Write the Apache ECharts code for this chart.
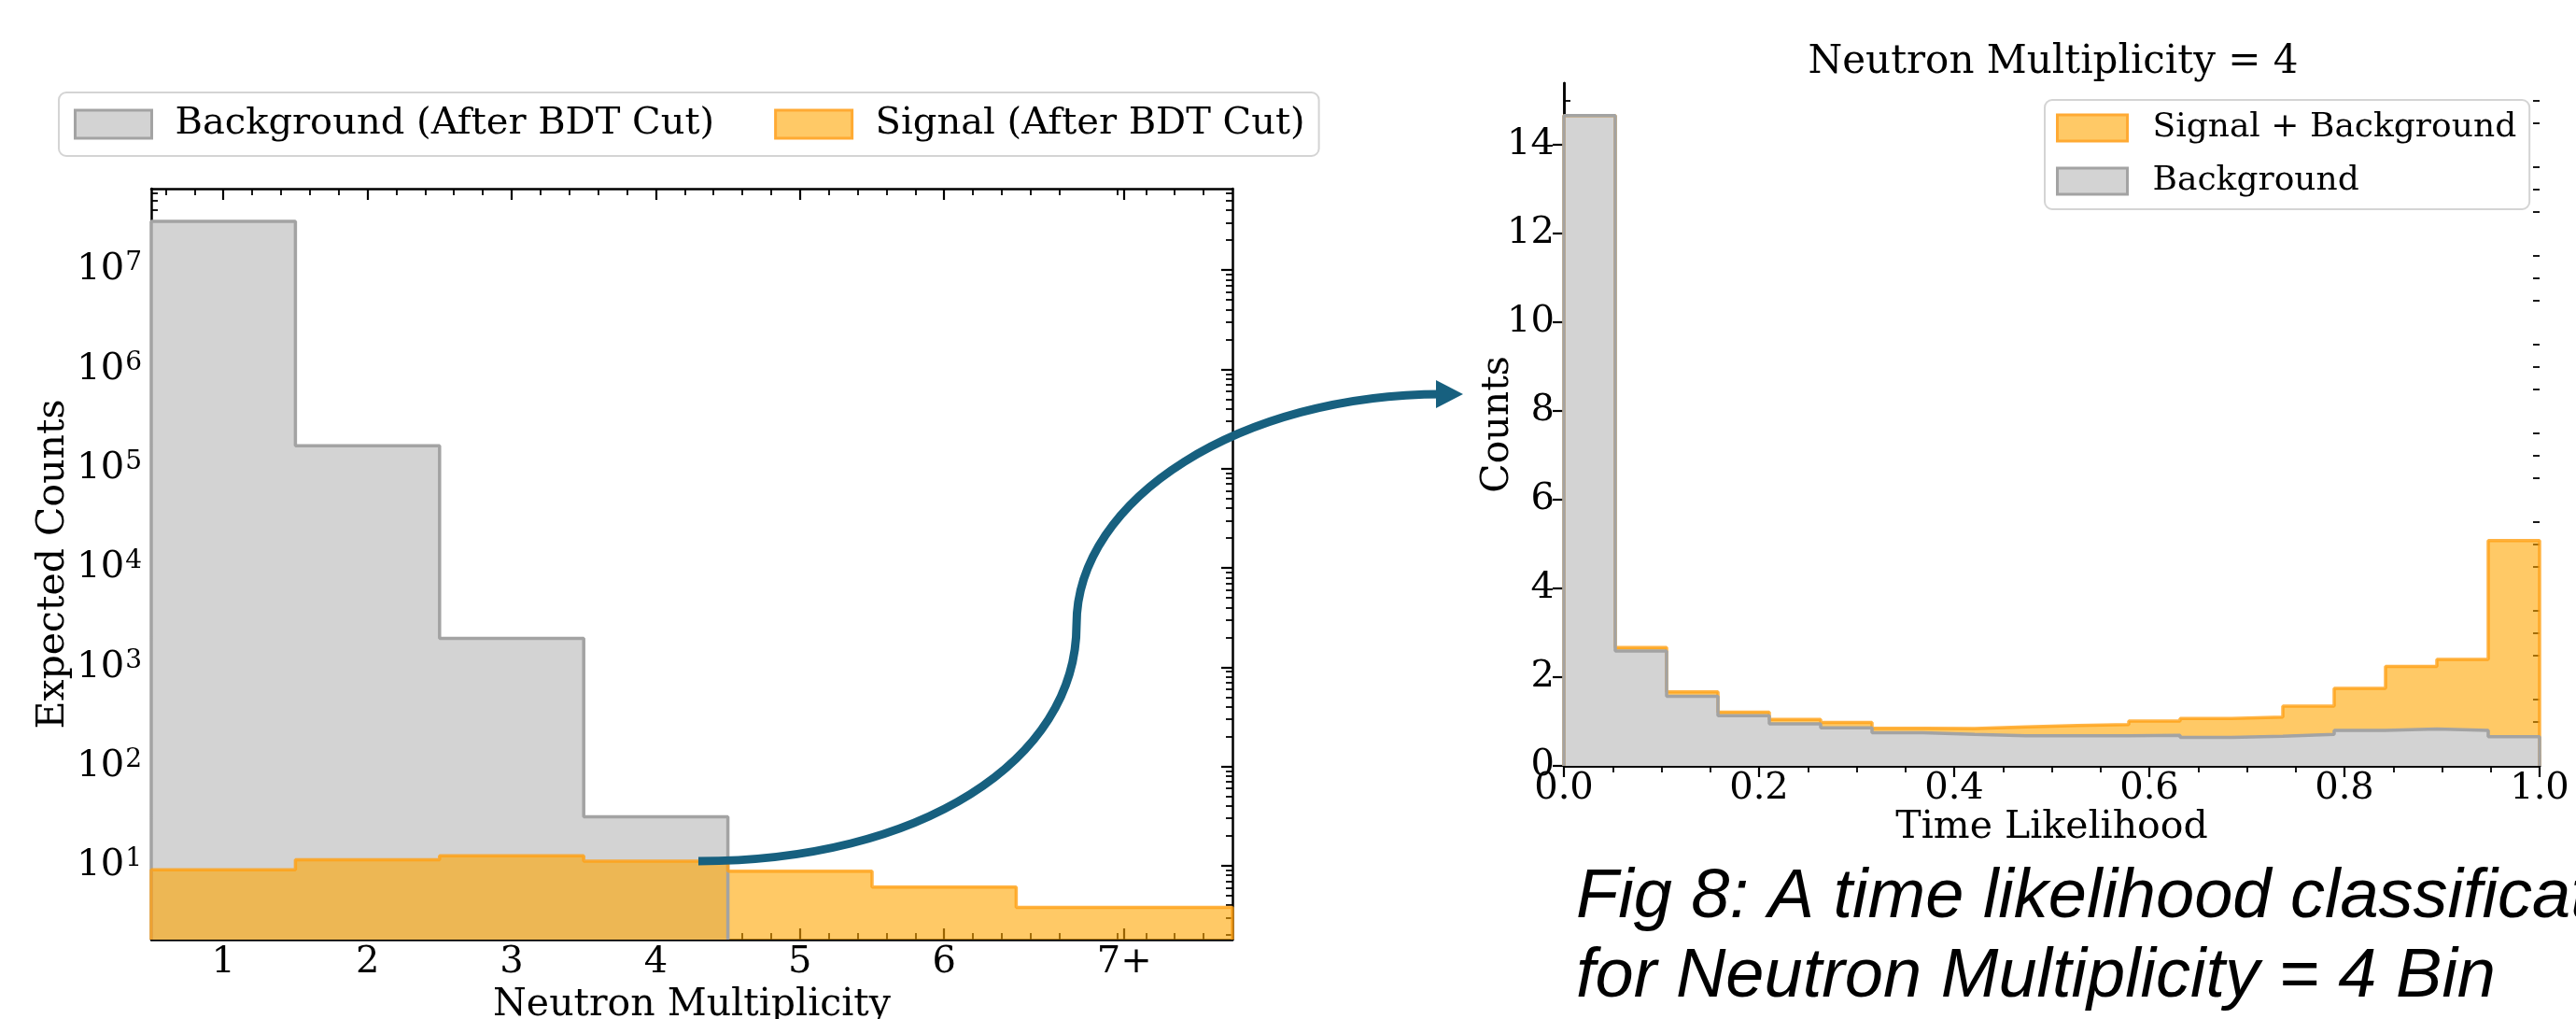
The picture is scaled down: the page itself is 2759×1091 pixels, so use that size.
<!DOCTYPE html>
<html>
<head>
<meta charset="utf-8">
<title>Neutron multiplicity / time likelihood</title>
<script src="https://cdn.jsdelivr.net/npm/echarts@6/dist/echarts.min.js"></script>
<style>
  html, body { margin: 0; padding: 0; background: #fff; }
  #chart { width: 2759px; height: 1091px; }
</style>
</head>
<body>
<div id="chart"></div>
<script>
// left panel: expected counts per neutron multiplicity bin (after BDT cut)
var multEdges = [0.5, 1.5, 2.5, 3.5, 4.5, 5.5, 6.5, 8.0];
var multTicks = [1, 2, 3, 4, 5, 6, 7.25];
var multLabels = ['1', '2', '3', '4', '5', '6', '7+'];
var bkgAfterCut = [3.1e7, 1.7e5, 1950, 31];
var sigAfterCut = [9.1, 11.5, 12.6, 11.1, 8.8, 6.1, 3.8];
var logTicks = [10, 100, 1e3, 1e4, 1e5, 1e6, 1e7];

// right panel: time likelihood for multiplicity = 4 (19 bins on [0, 1])
var sigPlusBkg = [14.66, 2.67, 1.67, 1.21, 1.05, 0.98, 0.85, 0.84, 0.88, 0.91,
                  0.93, 1.01, 1.07, 1.10, 1.35, 1.75, 2.24, 2.40, 5.08];
var bkgOnly = [14.66, 2.59, 1.57, 1.13, 0.95, 0.86, 0.75, 0.71, 0.68, 0.68,
               0.68, 0.69, 0.64, 0.67, 0.71, 0.80, 0.83, 0.80, 0.66];
var countTicks = [0, 2, 4, 6, 8, 10, 12, 14];

var LOG_MIN = 1.8, LOG_MAX = 6.6e7;
var CNT_MAX = 15.39;

var tlEdges = [];
for (var i = 0; i <= sigPlusBkg.length; i++) tlEdges.push(i / sigPlusBkg.length);

// minor tick positions (matplotlib style)
var multMinor = [];
for (var j = 3; j < 40; j++) if (j % 5 !== 0) multMinor.push(j / 5);
var logMinor = [];
for (var e = 0; e <= 7; e++) {
  for (var k = 2; k <= 9; k++) {
    var v = k * Math.pow(10, e);
    if (v > LOG_MIN && v < LOG_MAX) logMinor.push(v);
  }
}
var countMinor = [];
for (var m = 1; m <= 30; m++) if (m % 4 !== 0) countMinor.push(m / 2);

// histogram outline as step points, closed down to the baseline
function stepPoints(edges, counts, base) {
  var pts = [[edges[0], base]];
  for (var i = 0; i < counts.length; i++) pts.push([edges[i], counts[i]]);
  var n = counts.length;
  pts.push([edges[n], counts[n - 1]]);
  pts.push([edges[n], base]);
  return pts;
}

var serif = 'DejaVu Serif';
var GRAY_FILL = '#d3d3d3', GRAY_EDGE = '#a3a3a3';
var ORANGE = '#ffa500', ORANGE_EDGE = 'rgba(255,160,20,0.8)';
var tickFont = { fontFamily: serif, fontSize: 40, color: '#000' };
var nameFont = { fontFamily: serif, fontSize: 41, color: '#000' };
var axLine = { show: true, lineStyle: { color: '#000', width: 2.5 } };

function majorTick(vals) {
  var t = { show: true, inside: true, length: 12, lineStyle: { color: '#000', width: 2.2 } };
  if (vals) t.customValues = vals;
  return t;
}
function minorOnly(vals) {
  return { show: true, inside: true, length: 7, lineStyle: { color: '#000', width: 1.8 }, customValues: vals };
}
function tickAxis(type, grid, pos, min, max, tick, line) {
  return { type: type, gridIndex: grid, position: pos, min: min, max: max,
    axisLine: line ? axLine : { show: false }, axisTick: tick,
    axisLabel: { show: false }, splitLine: { show: false } };
}

var chart = echarts.init(document.getElementById('chart'));

chart.setOption({
  backgroundColor: '#fff',
  animation: false,
  title: {
    text: 'Neutron Multiplicity = 4',
    left: 2199, top: 46, textAlign: 'center', padding: 0,
    textStyle: { fontFamily: serif, fontSize: 42, fontWeight: 'normal', color: '#000' }
  },
  legend: [{
    data: [
      { name: 'Background (After BDT Cut)', icon: 'rect', itemStyle: { color: GRAY_FILL, borderColor: GRAY_EDGE, borderWidth: 3 } },
      { name: 'Signal (After BDT Cut)', icon: 'rect', itemStyle: { color: '#ffc966', borderColor: '#ffaa33', borderWidth: 3 } }
    ],
    left: 63, top: 99, orient: 'horizontal', selectedMode: false,
    padding: [14, 15, 14, 16], itemWidth: 82, itemHeight: 30, itemGap: 64,
    borderColor: '#d4d4d4', borderWidth: 2, borderRadius: 8,
    textStyle: { fontFamily: serif, fontSize: 40, color: '#000', padding: [0, 0, 0, 20] }
  }, {
    data: [
      { name: 'Signal + Background', icon: 'rect', itemStyle: { color: '#ffc966', borderColor: '#ffaa33', borderWidth: 3 } },
      { name: 'Background', icon: 'rect', itemStyle: { color: GRAY_FILL, borderColor: GRAY_EDGE, borderWidth: 3 } }
    ],
    left: 2190, top: 107, orient: 'vertical', selectedMode: false,
    padding: [12, 14, 12, 12], itemWidth: 75, itemHeight: 28, itemGap: 21,
    borderColor: '#d4d4d4', borderWidth: 2, borderRadius: 8, backgroundColor: '#fff',
    textStyle: { fontFamily: serif, fontSize: 36, lineHeight: 30, color: '#000', padding: [0, 0, 0, 22] }
  }],
  grid: [
    { left: 162, top: 202, width: 1158, height: 804, outerBoundsMode: 'none', containLabel: false },
    { left: 1675, top: 89, width: 1045, height: 731, outerBoundsMode: 'none', containLabel: false }
  ],
  xAxis: [
    { // left, bottom
      type: 'value', gridIndex: 0, position: 'bottom', min: 0.5, max: 8,
      axisLine: axLine, axisTick: majorTick(multTicks), splitLine: { show: false },
      axisLabel: Object.assign({ customValues: multTicks, margin: 5,
        formatter: function (v) { var idx = multTicks.indexOf(v); return idx >= 0 ? multLabels[idx] : ''; } }, tickFont),
      name: 'Neutron Multiplicity', nameLocation: 'middle', nameGap: 50, nameMoveOverlap: false,
      nameTextStyle: nameFont
    },
    tickAxis('value', 0, 'top', 0.5, 8, majorTick(multTicks), true),
    tickAxis('value', 0, 'bottom', 0.5, 8, minorOnly(multMinor), false),
    tickAxis('value', 0, 'top', 0.5, 8, minorOnly(multMinor), false),
    { // right, bottom
      type: 'value', gridIndex: 1, position: 'bottom', min: 0, max: 1, interval: 0.2,
      axisLine: axLine, axisTick: majorTick(), splitLine: { show: false },
      minorTick: { show: true, splitNumber: 4, length: 7, lineStyle: { color: '#000', width: 1.8 } },
      axisLabel: Object.assign({ margin: 5, formatter: function (v) { return v.toFixed(1); } }, tickFont),
      name: 'Time Likelihood', nameLocation: 'middle', nameGap: 46, nameMoveOverlap: false,
      nameTextStyle: nameFont
    },
    { type: 'value', gridIndex: 1, position: 'top', min: 0, max: 1, interval: 0.2,
      axisLine: axLine, axisTick: majorTick(), axisLabel: { show: false }, splitLine: { show: false },
      minorTick: { show: true, splitNumber: 4, length: 7, lineStyle: { color: '#000', width: 1.8 } } }
  ],
  yAxis: [
    { // left, log
      type: 'log', logBase: 10, gridIndex: 0, position: 'left', min: LOG_MIN, max: LOG_MAX,
      axisLine: axLine, axisTick: majorTick(logTicks), splitLine: { show: false },
      axisLabel: {
        customValues: logTicks, margin: 10, color: '#000',
        formatter: function (v) { return '{b|10}{s|' + Math.round(Math.log10(v)) + '}'; },
        rich: {
          b: { fontFamily: serif, fontSize: 40, color: '#000' },
          s: { fontFamily: serif, fontSize: 28, color: '#000', verticalAlign: 'top', padding: [0, 0, 14, 1] }
        }
      },
      name: 'Expected Counts', nameLocation: 'middle', nameGap: 84, nameMoveOverlap: false,
      nameTextStyle: nameFont
    },
    tickAxis('log', 0, 'right', LOG_MIN, LOG_MAX, majorTick(logTicks), true),
    tickAxis('log', 0, 'left', LOG_MIN, LOG_MAX, minorOnly(logMinor), false),
    tickAxis('log', 0, 'right', LOG_MIN, LOG_MAX, minorOnly(logMinor), false),
    { // right, counts
      type: 'value', gridIndex: 1, position: 'left', min: 0, max: CNT_MAX,
      axisLine: axLine, axisTick: majorTick(countTicks), splitLine: { show: false },
      axisLabel: Object.assign({ margin: 10, customValues: countTicks }, tickFont),
      name: 'Counts', nameLocation: 'middle', nameGap: 50, nameMoveOverlap: false,
      nameTextStyle: nameFont
    },
    tickAxis('value', 1, 'right', 0, CNT_MAX, majorTick(countTicks), true),
    tickAxis('value', 1, 'left', 0, CNT_MAX, minorOnly(countMinor), false),
    tickAxis('value', 1, 'right', 0, CNT_MAX, minorOnly(countMinor), false)
  ],
  series: [
    {
      name: 'Background (After BDT Cut)', type: 'line', xAxisIndex: 0, yAxisIndex: 0,
      step: 'end', symbol: 'none', data: stepPoints(multEdges, bkgAfterCut, LOG_MIN),
      itemStyle: { color: GRAY_FILL },
      lineStyle: { color: GRAY_EDGE, width: 3.5 },
      areaStyle: { color: GRAY_FILL, opacity: 1, origin: 'start' }
    },
    {
      name: 'Signal (After BDT Cut)', type: 'line', xAxisIndex: 0, yAxisIndex: 0,
      step: 'end', symbol: 'none', data: stepPoints(multEdges, sigAfterCut, LOG_MIN),
      itemStyle: { color: '#ffc966' },
      lineStyle: { color: ORANGE_EDGE, width: 3.5 },
      areaStyle: { color: ORANGE, opacity: 0.6, origin: 'start' }
    },
    {
      name: 'Signal + Background', type: 'line', xAxisIndex: 4, yAxisIndex: 4,
      step: 'end', symbol: 'none', data: stepPoints(tlEdges, sigPlusBkg, 0),
      itemStyle: { color: '#ffc966' },
      lineStyle: { color: ORANGE_EDGE, width: 3.5 },
      areaStyle: { color: ORANGE, opacity: 0.6, origin: 'start' }
    },
    {
      name: 'Background', type: 'line', xAxisIndex: 4, yAxisIndex: 4,
      step: 'end', symbol: 'none', data: stepPoints(tlEdges, bkgOnly, 0),
      itemStyle: { color: GRAY_FILL },
      lineStyle: { color: GRAY_EDGE, width: 3.5 },
      areaStyle: { color: GRAY_FILL, opacity: 1, origin: 'start' }
    }
  ],
  graphic: [
    // connector arrow from the multiplicity-4 bin to the right panel
    { type: 'bezierCurve', z: 100,
      shape: { x1: 748, y1: 922, cpx1: 985, cpy1: 922, cpx2: 1153, cpy2: 815, x2: 1153, y2: 669 },
      style: { stroke: '#17607f', lineWidth: 9, fill: null } },
    { type: 'bezierCurve', z: 100,
      shape: { x1: 1153, y1: 669, cpx1: 1153, cpy1: 533, cpx2: 1330, cpy2: 422, x2: 1545, y2: 422 },
      style: { stroke: '#17607f', lineWidth: 9, fill: null } },
    { type: 'polygon', z: 100,
      shape: { points: [[1567, 422], [1538, 407], [1538, 437]] },
      style: { fill: '#17607f' } },
    { type: 'text', z: 100, x: 1688, y: 961,
      style: { text: 'Fig 8: A time likelihood classification', font: 'italic 74px "Liberation Sans"',
               fill: '#000', verticalAlign: 'middle', textVerticalAlign: 'middle' } },
    { type: 'text', z: 100, x: 1688, y: 1046,
      style: { text: 'for Neutron Multiplicity = 4 Bin', font: 'italic 74px "Liberation Sans"',
               fill: '#000', verticalAlign: 'middle', textVerticalAlign: 'middle' } }
  ]
});
</script>
</body>
</html>
